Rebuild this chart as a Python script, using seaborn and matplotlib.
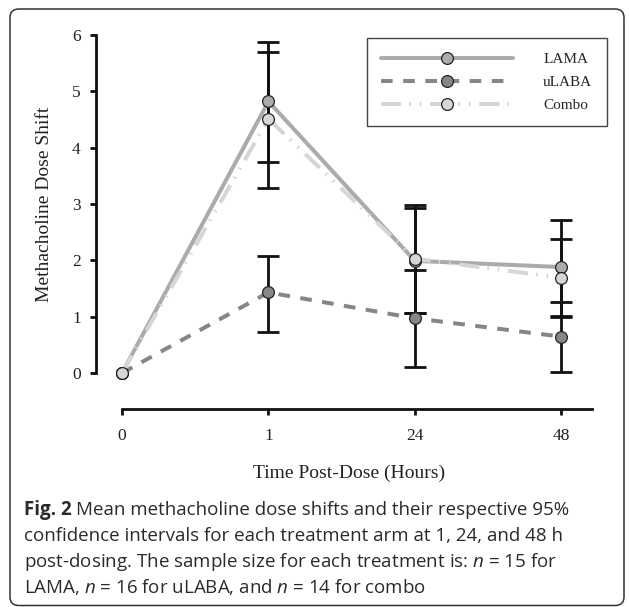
import numpy as np
import pandas as pd
import matplotlib.pyplot as plt
import seaborn as sns
from matplotlib.patches import FancyBboxPatch

# ---- data ----
times = ["0", "1", "24", "48"]
series = ["LAMA", "uLABA", "Combo"]

lama_mean = [0.0, 4.82, 1.99, 1.88]
lama_lo = [np.nan, 3.74, 1.06, 0.99]
lama_hi = [np.nan, 5.87, 2.92, 2.72]

ulaba_mean = [0.0, 1.43, 0.97, 0.645]
ulaba_lo = [np.nan, 0.73, 0.10, 0.01]
ulaba_hi = [np.nan, 2.08, 1.82, 1.26]

combo_mean = [0.0, 4.51, 2.03, 1.69]
combo_lo = [np.nan, 3.29, 1.06, 1.02]
combo_hi = [np.nan, 5.69, 2.98, 2.37]

colors = {"LAMA": "#ababab", "uLABA": "#868686", "Combo": "#d6d6d6"}
dashes = {"LAMA": "", "uLABA": (2.9, 2.6), "Combo": (5.0, 2.0, 0.4, 2.2, 0.4, 2.2)}

means = {"LAMA": lama_mean, "uLABA": ulaba_mean, "Combo": combo_mean}
los = {"LAMA": lama_lo, "uLABA": ulaba_lo, "Combo": combo_lo}
his = {"LAMA": lama_hi, "uLABA": ulaba_hi, "Combo": combo_hi}

rows = []
for s in series:
    for i, t in enumerate(times):
        rows.append({"pos": i, "time": t, "arm": s, "shift": means[s][i],
                     "lo": los[s][i], "hi": his[s][i]})
df = pd.DataFrame(rows)

# ---- figure ----
sns.set_style("white")
plt.rcParams["font.family"] = ["Liberation Serif", "DejaVu Serif"]
plt.rcParams["mathtext.fontset"] = "custom"
plt.rcParams["mathtext.rm"] = "Open Sans"
plt.rcParams["mathtext.it"] = "Open Sans:italic"
plt.rcParams["mathtext.bf"] = "Open Sans:bold"

W, H = 629, 607
fig = plt.figure(figsize=(W / 100, H / 100), dpi=100)
ax = fig.add_axes([96 / W, 1 - 409 / H, (592 - 96) / W, (409 - 35) / H])

# error bars behind the lines/markers
for s in series:
    d = df[df["arm"] == s]
    yerr = np.vstack([d["shift"] - d["lo"], d["hi"] - d["shift"]])
    ax.errorbar(d["pos"], d["shift"], yerr=yerr, fmt="none", ecolor="#111111",
                elinewidth=2.0, capsize=8, capthick=2.0, zorder=1.5)

sns.lineplot(data=df, x="pos", y="shift", hue="arm", style="arm",
             hue_order=series, style_order=series, palette=colors,
             dashes=dashes, markers={"LAMA": "o", "uLABA": "o", "Combo": "o"},
             linewidth=2.9, markersize=8.5, markeredgecolor="#222222",
             markeredgewidth=0.9, errorbar=None, ax=ax, zorder=2)

ax.set_xlim(-0.178, 3.21)
ax.set_ylim(-0.64, 6.0)
ax.set_xticks(range(len(times)))
ax.set_xticklabels(times)
ax.set_yticks(range(0, 7))

for side in ["top", "right"]:
    ax.spines[side].set_visible(False)
ax.spines["left"].set_bounds(0, 6)
ax.spines["bottom"].set_bounds(0, 3.21)
for side in ["left", "bottom"]:
    ax.spines[side].set_linewidth(2.0)
    ax.spines[side].set_color("#111111")
ax.tick_params(axis="both", direction="out", length=4, width=2.0,
               color="#111111", labelsize=12.5, labelcolor="#222222")
ax.tick_params(axis="x", pad=10, bottom=True)
ax.tick_params(axis="y", pad=7, left=True)

ax.set_xlabel("Time Post-Dose (Hours)", fontsize=14, color="#222222")
ax.set_ylabel("Methacholine Dose Shift", fontsize=14, color="#222222")
ax.xaxis.label.set_va("center")
ax.xaxis.set_label_coords((349 - 96) / 496, (409 - 473) / 374)
ax.yaxis.label.set_va("center")
ax.yaxis.set_label_coords((45 - 96) / 496, (409 - 204) / 374)

handles = ax.get_legend().legend_handles
ax.legend(handles=handles, labels=series, loc="upper right",
          bbox_to_anchor=(1.030, 0.992), borderaxespad=0, fontsize=11,
          frameon=True, fancybox=False, edgecolor="#444444",
          framealpha=1, handlelength=8.6, handletextpad=2.0,
          borderpad=0.95, labelspacing=0.6)
ax.get_legend().get_frame().set_linewidth(1.0)

# rounded frame around figure and caption
frame = FancyBboxPatch((10 / W, 1 - 605.5 / H), (624 - 10) / W, (605.5 - 9) / H,
                       boxstyle="round,pad=0,rounding_size=0.014",
                       transform=fig.transFigure, fill=False,
                       edgecolor="#333333", linewidth=1.1)
fig.patches.append(frame)

# caption: bold "Fig. 2" followed by the regular text on the same baseline
cap_kw = dict(fontsize=13.5, family="Open Sans", color="#2a2a2a")
fig_lbl = fig.text(24 / W, 1 - 515 / H, "Fig. 2", fontweight="bold",
                   va="baseline", ha="left", **cap_kw)
fig.canvas.draw()
bb = fig_lbl.get_window_extent()
fig.text((bb.x1 + 4.5) / W, 1 - 515 / H,
         "Mean methacholine dose shifts and their respective 95%",
         va="baseline", ha="left", **cap_kw)

cap_lines = [
    "confidence intervals for each treatment arm at 1, 24, and 48 h",
    r"post-dosing. The sample size for each treatment is: $n$ = 15 for",
    r"LAMA, $n$ = 16 for uLABA, and $n$ = 14 for combo",
]
cap_base = [541, 567, 593]
for txt, y in zip(cap_lines, cap_base):
    fig.text(24 / W, 1 - y / H, txt, va="baseline", ha="left", **cap_kw)

plt.savefig("out.png", dpi=100)
